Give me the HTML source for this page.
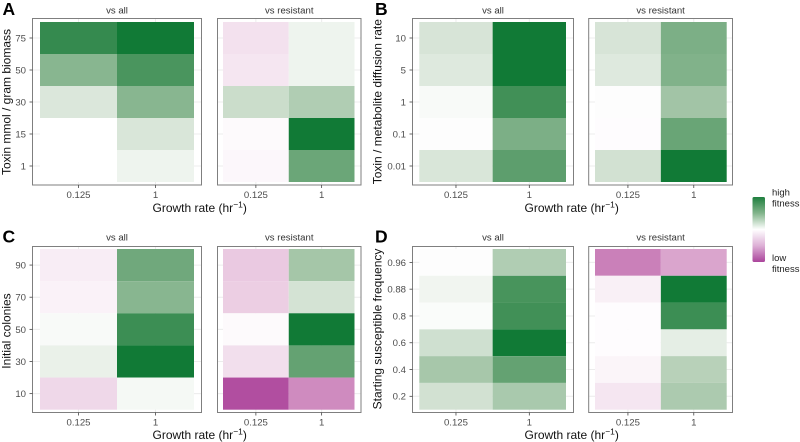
<!DOCTYPE html>
<html lang="en">
<head>
<meta charset="utf-8">
<title>Fitness heatmaps</title>
<style>
html,body{margin:0;padding:0;background:#fff;width:800px;height:442px;overflow:hidden}
svg{display:block;font-family:"Liberation Sans",sans-serif}
</style>
</head>
<body>
<svg id="figure" width="800" height="442" viewBox="0 0 800 442" xmlns="http://www.w3.org/2000/svg">
<defs>
<linearGradient id="legendGradient" x1="0" y1="0" x2="0" y2="1">
<stop offset="0" stop-color="#1f7f3e"/>
<stop offset="0.25" stop-color="#83b58c"/>
<stop offset="0.5" stop-color="#ffffff"/>
<stop offset="0.75" stop-color="#ddb0d6"/>
<stop offset="1" stop-color="#aa449b"/>
</linearGradient>
</defs>
<g>
<rect x="752.5" y="197" width="12.5" height="65" rx="1.5" fill="url(#legendGradient)"/>
<text x="772" y="195.5" font-size="9.5" fill="#222">high</text>
<text x="772" y="206.5" font-size="9.5" fill="#222">fitness</text>
<text x="772" y="261" font-size="9.5" fill="#222">low</text>
<text x="772" y="272" font-size="9.5" fill="#222">fitness</text>
</g>
</svg>
<script>
const growthRates = ["0.125", "1"];
const toxinLevels = ["75", "50", "30", "15", "1"];
const diffusionRates = ["10", "5", "1", "0.1", "0.01"];
const initialColonies = ["90", "70", "50", "30", "10"];
const susceptibleFrequencies = ["0.96", "0.88", "0.8", "0.6", "0.4", "0.2"];

const aAllSlow = [0.85, 0.5, 0.15, 0, 0];
const aAllFast = [1, 0.76, 0.5, 0.16, 0.07];
const aResistantSlow = [-0.12, -0.1, 0.22, -0.02, -0.03];
const aResistantFast = [0.07, 0.07, 0.33, 1, 0.62];

const bAllSlow = [0.17, 0.14, 0.03, 0.01, 0.16];
const bAllFast = [1, 1, 0.8, 0.55, 0.68];
const bResistantSlow = [0.17, 0.14, 0.01, -0.01, 0.19];
const bResistantFast = [0.55, 0.53, 0.39, 0.63, 1];

const cAllSlow = [-0.07, -0.05, 0.03, 0.09, -0.16];
const cAllFast = [0.6, 0.5, 0.82, 1, 0.04];
const cResistantSlow = [-0.22, -0.2, -0.02, -0.13, -0.8];
const cResistantFast = [0.38, 0.18, 1, 0.65, -0.5];

const dAllSlow = [0.01, 0.06, 0.02, 0.2, 0.37, 0.19];
const dAllFast = [0.33, 0.77, 0.8, 1, 0.65, 0.36];
const dResistantSlow = [-0.55, -0.06, -0.01, -0.01, -0.04, -0.1];
const dResistantFast = [-0.38, 1, 0.82, 0.11, 0.3, 0.35];

const stripTitles = ["vs all", "vs resistant"];

const figureRows = [
  {key: "a", letter: "A", title: "Toxin mmol / gram biomass", cats: toxinLevels,
   series: [[aAllSlow, aAllFast], [aResistantSlow, aResistantFast]]},
  {key: "b", letter: "B", title: "Toxin / metabolite diffusion rate", cats: diffusionRates,
   series: [[bAllSlow, bAllFast], [bResistantSlow, bResistantFast]]},
  {key: "c", letter: "C", title: "Initial colonies", cats: initialColonies,
   series: [[cAllSlow, cAllFast], [cResistantSlow, cResistantFast]]},
  {key: "d", letter: "D", title: "Starting susceptible frequency", cats: susceptibleFrequencies,
   series: [[dAllSlow, dAllFast], [dResistantSlow, dResistantFast]]}
];

const layouts = {
  a: {letterX: 2.5, letterY: 15, titleX: 10.5, titleY: 102, stripY: 13.5, xTitleX: 199.7, xTitleY: 212,
      top: 18.5, bottom: 185, tileTop: 22, tileBottom: 182,
      panels: [{l: 32.5, r: 201.5, tl: 40, tr: 194}, {l: 217.5, r: 361, tl: 223, tr: 354.5}]},
  b: {letterX: 375, letterY: 15, titleX: 381.5, titleY: 101.7, stripY: 13.5, xTitleX: 571.7, xTitleY: 212,
      top: 18.5, bottom: 185, tileTop: 22, tileBottom: 182,
      panels: [{l: 412.5, r: 573.5, tl: 419.3, tr: 566}, {l: 588.7, r: 732.5, tl: 595, tr: 726.7}]},
  c: {letterX: 2.5, letterY: 242.5, titleX: 10.5, titleY: 331, stripY: 240.3, xTitleX: 199.7, xTitleY: 439,
      top: 246.5, bottom: 412.5, tileTop: 249, tileBottom: 409.7,
      panels: [{l: 32.5, r: 201.5, tl: 40, tr: 194}, {l: 217.5, r: 361, tl: 223, tr: 354.5}]},
  d: {letterX: 375, letterY: 242.5, titleX: 381.5, titleY: 329, stripY: 240.3, xTitleX: 571.7, xTitleY: 439,
      top: 246.5, bottom: 412.5, tileTop: 249, tileBottom: 409.7,
      panels: [{l: 412.5, r: 573.5, tl: 419.3, tr: 566}, {l: 588.7, r: 732.5, tl: 595, tr: 726.7}]}
};

const SVG_NS = "http://www.w3.org/2000/svg";
const figure = document.getElementById("figure");

function make(tag, attrs, parent) {
  const el = document.createElementNS(SVG_NS, tag);
  for (const k in attrs) el.setAttribute(k, attrs[k]);
  parent.appendChild(el);
  return el;
}
function bandScale(count, start, end) {
  const step = (end - start) / count;
  return {step: step, at: i => start + step * i, mid: i => start + step * (i + 0.5)};
}
function fitnessColor(v) {
  const target = v >= 0 ? [17, 122, 54] : [158, 42, 143];
  const bend = v >= 0 ? [0, 7, 11] : [0, 10, 8];
  const t = Math.min(1, Math.abs(v));
  const mix = target.map((c, i) => Math.round(255 + (c - 255) * t - bend[i] * 4 * t * (1 - t)));
  return "rgb(" + mix.join(",") + ")";
}

figureRows.forEach(function (row) {
  const lay = layouts[row.key];
  const group = make("g", {}, figure);
  
  

  const letter = make("text", {x: lay.letterX, y: lay.letterY, "font-size": 17.5, "font-weight": "bold", fill: "#000"}, group);
  
  
  letter.textContent = row.letter;

  const yTitle = make("text", {x: lay.titleX, y: lay.titleY, "font-size": 12, fill: "#111", "text-anchor": "middle",
    transform: "rotate(-90 " + lay.titleX + " " + lay.titleY + ")"}, group);
  
  
  yTitle.textContent = row.title;

  const xTitle = make("text", {x: lay.xTitleX, y: lay.xTitleY, "font-size": 12, fill: "#111", "text-anchor": "middle"}, group);
  
  
  xTitle.appendChild(document.createTextNode("Growth rate (hr"));
  const sup = make("tspan", {dy: -4.5, "font-size": 8.5}, xTitle);
  sup.textContent = "\u22121";
  const close = make("tspan", {dy: 4.5}, xTitle);
  close.textContent = ")";

  lay.panels.forEach(function (p, pi) {
    const xScale = bandScale(growthRates.length, p.tl, p.tr);
    const yScale = bandScale(row.cats.length, lay.tileTop, lay.tileBottom);

    const strip = make("text", {x: (p.l + p.r) / 2, y: lay.stripY, "font-size": 9.6, fill: "#333", "text-anchor": "middle"}, group);
    
    
    strip.textContent = stripTitles[pi];

    row.cats.forEach(function (cat, i) {
      const grid = make("line", {x1: p.l, x2: p.r, y1: yScale.mid(i), y2: yScale.mid(i), stroke: "#ececec", "stroke-width": 1}, group);
      
      
    });
    growthRates.forEach(function (g, j) {
      const grid = make("line", {x1: xScale.mid(j), x2: xScale.mid(j), y1: lay.top, y2: lay.bottom, stroke: "#ececec", "stroke-width": 1}, group);
      
      
    });

    row.series[pi].forEach(function (values, j) {
      values.forEach(function (v, i) {
        const cell = make("rect", {x: xScale.at(j), y: yScale.at(i), width: xScale.step, height: yScale.step, fill: fitnessColor(v)}, group);
        
        
      });
    });

    const border = make("rect", {x: p.l, y: lay.top, width: p.r - p.l, height: lay.bottom - lay.top, fill: "none", stroke: "#7f7f7f", "stroke-width": 1}, group);
    
    

    growthRates.forEach(function (g, j) {
      const tick = make("line", {x1: xScale.mid(j), x2: xScale.mid(j), y1: lay.bottom, y2: lay.bottom + 3, stroke: "#444", "stroke-width": 0.8}, group);
      
      
      const label = make("text", {x: xScale.mid(j), y: lay.bottom + 13, "font-size": 9.6, fill: "#4d4d4d", "text-anchor": "middle"}, group);
      
      
      label.textContent = g;
    });

    if (pi === 0) {
      row.cats.forEach(function (cat, i) {
        const tick = make("line", {x1: p.l - 3, x2: p.l, y1: yScale.mid(i), y2: yScale.mid(i), stroke: "#444", "stroke-width": 0.8}, group);
        
        
        const label = make("text", {x: p.l - 6.5, y: yScale.mid(i) + 3.4, "font-size": 9.6, fill: "#4d4d4d", "text-anchor": "end"}, group);
        
        
        label.textContent = cat;
      });
    }
  });
});
</script>
</body>
</html>
